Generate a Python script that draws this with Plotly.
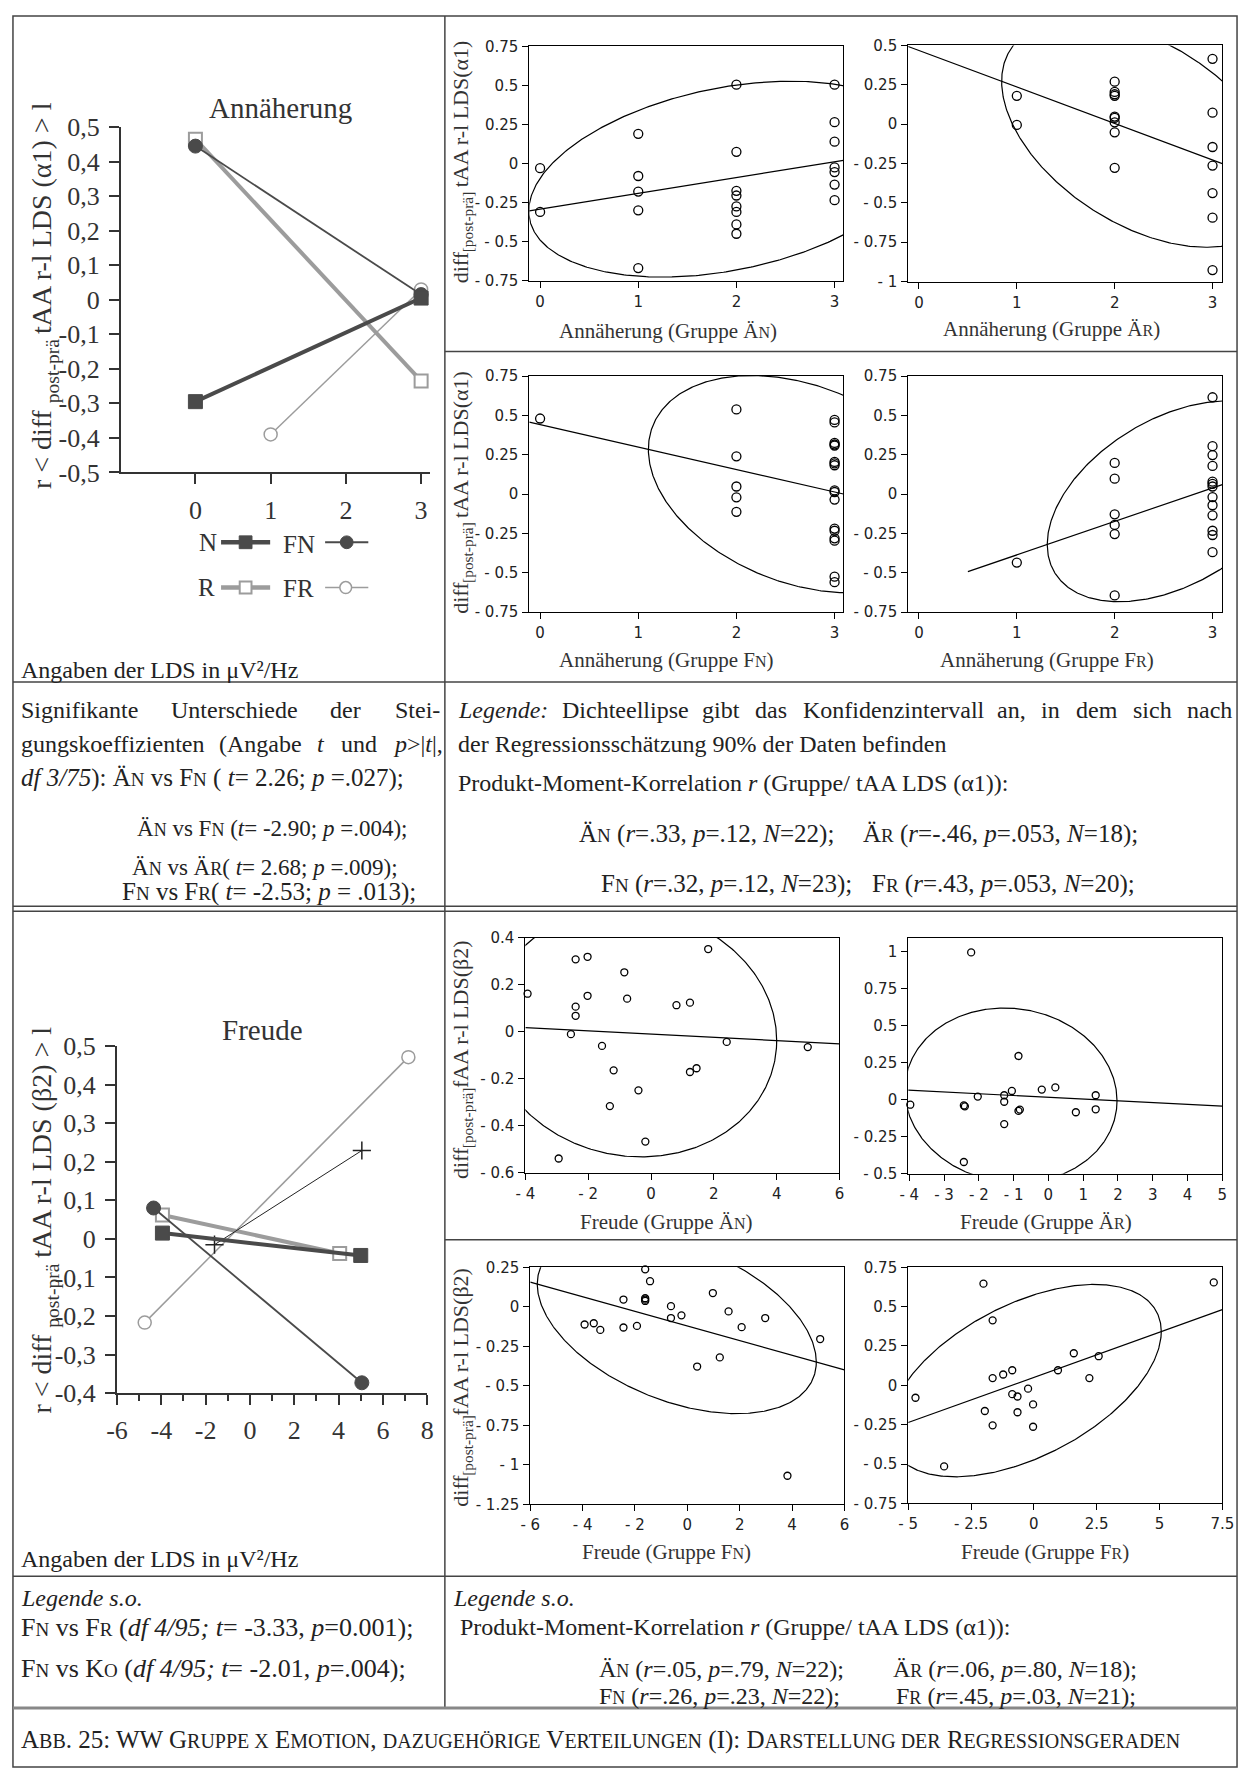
import numpy as np
import plotly.graph_objects as go

W, H = 1251, 1784
SERIF = "Liberation Serif"
SANS = "DejaVu Sans"
DARK = "#4a4a4a"
GREY = "#9c9c9c"
INK = "#222222"

# ---------------- left line charts ----------------
# Annäherung (x = Annäherung score, y = r)
ann_N_x = [0, 3];  ann_N_y = [-0.295, 0.005]
ann_FN_x = [0, 3]; ann_FN_y = [0.445, 0.015]
ann_R_x = [0, 3];  ann_R_y = [0.465, -0.235]
ann_FR_x = [1, 3]; ann_FR_y = [-0.39, 0.03]
# Freude
fr_N_x = [-3.95, 5.0];   fr_N_y = [0.015, -0.043]
fr_FN_x = [-4.35, 5.05]; fr_FN_y = [0.08, -0.373]
fr_R_x = [-3.95, 4.05];  fr_R_y = [0.062, -0.038]
fr_FR_x = [-4.75, 7.15]; fr_FR_y = [-0.217, 0.471]
fr_KO_x = [-1.6, 5.05];  fr_KO_y = [-0.015, 0.229]

ann_line_xticks = [-1, 0, 1, 2, 3]
ann_line_xtext = ["", "0", "1", "2", "3"]
ann_line_yticks = [0.5, 0.4, 0.3, 0.2, 0.1, 0, -0.1, -0.2, -0.3, -0.4, -0.5]
ann_line_ytext = ["0,5", "0,4", "0,3", "0,2", "0,1", "0", "-0,1", "-0,2", "-0,3", "-0,4", "-0,5"]
fr_line_xticks = [-6, -4, -2, 0, 2, 4, 6, 8]
fr_line_xtext = ["-6", "-4", "-2", "0", "2", "4", "6", "8"]
fr_line_yticks = [0.5, 0.4, 0.3, 0.2, 0.1, 0, -0.1, -0.2, -0.3, -0.4]
fr_line_ytext = ["0,5", "0,4", "0,3", "0,2", "0,1", "0", "-0,1", "-0,2", "-0,3", "-0,4"]

# ---------------- scatter panels ----------------
annA_x = [0, 0, 1, 1, 1, 1, 1, 2, 2, 2, 2, 2, 2, 2, 2, 3, 3, 3, 3, 3, 3, 3]
annA_y = [-0.03, -0.31, 0.19, -0.08, -0.18, -0.30, -0.67, 0.505, 0.075, -0.175, -0.205,
          -0.275, -0.31, -0.39, -0.45, 0.505, 0.265, 0.14, -0.025, -0.055, -0.135, -0.235]
annB_x = [1, 1, 2, 2, 2, 2, 2, 2, 2, 2, 2, 3, 3, 3, 3, 3, 3, 3]
annB_y = [0.18, -0.005, 0.27, 0.205, 0.19, 0.18, 0.048, 0.04, 0.012, -0.052, -0.277,
          0.415, 0.073, -0.145, -0.263, -0.438, -0.594, -0.927]
annC_x = [0, 2, 2, 2, 2, 2, 3, 3, 3, 3, 3, 3, 3, 3, 3, 3, 3, 3, 3, 3, 3, 3, 3]
annC_y = [0.48, 0.538, 0.24, 0.048, -0.021, -0.113, 0.471, 0.455, 0.325, 0.315, 0.308,
          0.204, 0.195, 0.183, 0.023, 0.013, -0.035, -0.219, -0.233, -0.281, -0.296, -0.525, -0.56]
annD_x = [1, 2, 2, 2, 2, 2, 2, 3, 3, 3, 3, 3, 3, 3, 3, 3, 3, 3, 3, 3]
annD_y = [-0.435, 0.198, 0.098, -0.129, -0.196, -0.254, -0.644, 0.615, 0.304, 0.248, 0.179,
          0.079, 0.065, 0.048, -0.019, -0.071, -0.135, -0.233, -0.26, -0.369]
frE_x = [-3.93, -2.94, -2.55, -2.40, -2.40, -2.40, -2.02, -2.02, -1.56, -1.31, -1.19, -0.85,
         -0.76, -0.40, -0.18, 0.81, 1.24, 1.24, 1.45, 1.82, 2.41, 4.99]
frE_y = [0.162, -0.539, -0.01, 0.308, 0.107, 0.068, 0.319, 0.153, -0.06, -0.316, -0.164, 0.253,
         0.141, -0.249, -0.467, 0.113, 0.124, -0.171, -0.155, 0.352, -0.043, -0.065]
frF_x = [-3.97, -2.43, -2.40, -2.43, -2.22, -2.03, -1.27, -1.27, -1.27, -1.05, -0.86, -0.86,
         -0.82, -0.19, 0.20, 0.79, 1.36, 1.36]
frF_y = [-0.033, -0.038, -0.044, -0.42, 0.996, 0.022, 0.031, -0.013, -0.164, 0.06, 0.296, -0.075,
         -0.066, 0.069, 0.084, -0.084, 0.031, -0.064]
frG_x = [-3.925, -3.575, -3.325, -2.44, -2.44, -1.925, -1.61, -1.61, -1.61, -1.61, -1.425, -0.625,
         -0.625, -0.225, 0.375, 0.975, 1.24, 1.575, 2.075, 2.975, 3.825, 5.075]
frG_y = [-0.112, -0.104, -0.146, 0.046, -0.131, -0.121, 0.237, 0.054, 0.045, 0.037, 0.162, 0.004,
         -0.071, -0.054, -0.378, 0.087, -0.32, -0.029, -0.129, -0.071, -1.069, -0.204]
frH_x = [-4.71, -3.57, -2.005, -1.95, -1.64, -1.64, -1.64, -1.22, -0.86, -0.86, -0.65, -0.65,
         -0.23, -0.03, -0.03, 0.96, 1.59, 2.21, 2.58, 7.16]
frH_y = [-0.079, -0.515, 0.646, -0.163, 0.413, 0.046, -0.254, 0.069, 0.096, -0.056, -0.071, -0.171,
         -0.021, -0.121, -0.263, 0.096, 0.204, 0.046, 0.185, 0.654]

# density ellipse (90%) half-extents, centre and correlation per panel A..H
ell_cx = [1.90, 2.278, 2.652, 2.60, -0.589, -1.077, -0.403, -0.359]
ell_cy = [-0.10, -0.06, 0.063, -0.046, -0.006, 0.03, -0.103, 0.03]
ell_hx = [2.015, 1.433, 1.549, 1.289, 4.59, 3.05, 5.33, 5.43]
ell_hy = [0.6275, 0.722, 0.69, 0.638, 0.526, 0.59, 0.573, 0.611]
ell_r = [0.325, -0.46, -0.32, 0.43, -0.06, -0.062, -0.43, 0.51]
reg_x0 = [-0.11, -0.11, -0.11, 0.5, -4.0, -4.03, -6.0, -5.0]
reg_x1 = [3.09, 3.10, 3.09, 3.10, 6.0, 5.0, 6.0, 7.5]

# tick labels for scatter panels
t075_vals = [0.75, 0.5, 0.25, 0, -0.25, -0.5, -0.75]
t075_text = ["0.75", "0.5", "0.25", "0", "- 0.25", "- 0.5", "- 0.75"]
tB_yvals = [0.5, 0.25, 0, -0.25, -0.5, -0.75, -1]
tB_ytext = ["0.5", "0.25", "0", "- 0.25", "- 0.5", "- 0.75", "- 1"]
t0123 = [0, 1, 2, 3]
t0123_text = ["0", "1", "2", "3"]
tE_xvals = [-4, -2, 0, 2, 4, 6]
tE_xtext = ["- 4", "- 2", "0", "2", "4", "6"]
tE_yvals = [0.4, 0.2, 0, -0.2, -0.4, -0.6]
tE_ytext = ["0.4", "0.2", "0", "- 0.2", "- 0.4", "- 0.6"]
tF_xvals = [-4, -3, -2, -1, 0, 1, 2, 3, 4, 5]
tF_xtext = ["- 4", "- 3", "- 2", "- 1", "0", "1", "2", "3", "4", "5"]
tF_yvals = [1, 0.75, 0.5, 0.25, 0, -0.25, -0.5]
tF_ytext = ["1", "0.75", "0.5", "0.25", "0", "- 0.25", "- 0.5"]
tG_xvals = [-6, -4, -2, 0, 2, 4, 6]
tG_xtext = ["- 6", "- 4", "- 2", "0", "2", "4", "6"]
tG_yvals = [0.25, 0, -0.25, -0.5, -0.75, -1, -1.25]
tG_ytext = ["0.25", "0", "- 0.25", "- 0.5", "- 0.75", "- 1", "- 1.25"]
tH_xvals = [-5, -2.5, 0, 2.5, 5, 7.5]
tH_xtext = ["- 5", "- 2.5", "0", "2.5", "5", "7.5"]

# ---------------- helpers ----------------
def px(x):
    return x / W

def py(y):
    return 1 - y / H

def sc(s, size):
    return "<span style='font-size:%dpx'>%s</span>" % (size, s)

# Times / Liberation Serif advance widths (per 1000 em)
_TW = {' ': 250, '(': 333, ')': 333, ',': 250, '-': 333, '.': 250, ':': 278, ';': 278,
       '>': 564, '<': 564, '|': 200, '%': 833, '/': 278, '=': 564, '[': 333, ']': 333,
       '1': 500, '2': 500, 'α': 520, 'β': 500,
       'A': 722, 'D': 722, 'K': 722, 'L': 611, 'S': 556, 'U': 722, 'Ä': 722,
       'a': 444, 'b': 500, 'c': 444, 'd': 500, 'e': 444, 'f': 333, 'g': 500, 'h': 500,
       'i': 278, 'k': 500, 'l': 278, 'm': 778, 'n': 500, 'o': 500, 'p': 500, 'r': 333,
       's': 389, 't': 278, 'u': 500, 'v': 500, 'z': 444, 'ä': 444}

def text_width(s, size):
    return sum(_TW.get(c, 500) for c in s) * size / 1000.0

fig = go.Figure()
layout_axes = {}
annotations = []
shapes = []

def add_text(x, y, text, size, anchor="left", family=SERIF, color=INK, angle=0, yanchor="middle"):
    annotations.append(dict(x=px(x), y=py(y), xref="paper", yref="paper", text=text,
                            showarrow=False, xanchor=anchor, yanchor=yanchor, textangle=angle,
                            font=dict(family=family, size=size, color=color), borderpad=0))

def add_justified(x0, x1, y, words, size):
    total = sum(text_width(p, size) for _, p in words)
    gap = (x1 - x0 - total) / (len(words) - 1)
    x = x0
    for markup, plain in words:
        add_text(x, y, markup, size)
        x += text_width(plain, size) + gap

def rot_text(xc, yc, parts, color="#333"):
    # vertical (bottom-to-top) text assembled from pieces; parts: (markup, plain, size, dx)
    total = sum(text_width(p, s) for _, p, s, _ in parts)
    cur = yc + total / 2.0
    for markup, plain, size, dx in parts:
        if markup:
            add_text(xc + dx, cur, markup, size, anchor="center", color=color, angle=-90,
                     yanchor="bottom")
        cur -= text_width(plain, size)

# ---------------- line chart axes ----------------
line_common = dict(showline=True, linecolor="#333", linewidth=2, ticks="outside", ticklen=10,
                   tickwidth=1.5, tickcolor="#333", showgrid=False, zeroline=False,
                   tickfont=dict(family=SERIF, size=26, color="#333"), tickmode="array")

layout_axes["xaxis"] = dict(domain=[px(112), px(427)], range=[-0.99, 3.12], anchor="y",
                            tickvals=ann_line_xticks, ticktext=ann_line_xtext,
                            ticklabelstandoff=3, **line_common)
layout_axes["yaxis"] = dict(domain=[py(466), py(115)], range=[-0.5, 0.5], anchor="x",
                            tickvals=ann_line_yticks, ticktext=ann_line_ytext,
                            ticklabelstandoff=4, **line_common)
layout_axes["xaxis2"] = dict(domain=[px(108), px(424)], range=[-6, 8], anchor="y2",
                             tickvals=fr_line_xticks, ticktext=fr_line_xtext,
                             ticklabelstandoff=3,
                             minor=dict(tickmode="linear", tick0=-6, dtick=1, ticks="outside",
                                        ticklen=6, tickcolor="#333", tickwidth=1.5),
                             **line_common)
layout_axes["yaxis2"] = dict(domain=[py(1402), py(1049)], range=[-0.4, 0.5], anchor="x2",
                             tickvals=fr_line_yticks, ticktext=fr_line_ytext,
                             ticklabelstandoff=4, **line_common)

def line_trace(xs, ys, ax, color, lw, symbol, msize, fill, mlw):
    fig.add_trace(go.Scatter(x=xs, y=ys, mode="lines+markers", xaxis="x" + ax, yaxis="y" + ax,
                             line=dict(color=color, width=lw),
                             marker=dict(symbol=symbol, size=msize, color=fill,
                                         line=dict(color=color, width=mlw)),
                             cliponaxis=False, showlegend=False, hoverinfo="skip"))

line_trace(ann_R_x, ann_R_y, "", GREY, 4, "square", 13, "white", 2)
line_trace(ann_FR_x, ann_FR_y, "", GREY, 1.5, "circle", 13, "white", 1.5)
line_trace(ann_FN_x, ann_FN_y, "", DARK, 1.8, "circle", 14, DARK, 1)
line_trace(ann_N_x, ann_N_y, "", DARK, 4, "square", 14, DARK, 1)

line_trace(fr_R_x, fr_R_y, "2", GREY, 4, "square", 13, "white", 2)
line_trace(fr_FR_x, fr_FR_y, "2", GREY, 1.5, "circle", 13, "white", 1.5)
line_trace(fr_KO_x, fr_KO_y, "2", "#222", 1, "cross-thin", 13, "#222", 1.5)
line_trace(fr_FN_x, fr_FN_y, "2", DARK, 1.8, "circle", 14, DARK, 1)
line_trace(fr_N_x, fr_N_y, "2", DARK, 4, "square", 14, DARK, 1)

# ---------------- scatter panels ----------------
scat_common = dict(showline=True, mirror=True, linecolor="black", linewidth=1, ticks="outside",
                   ticklen=6, tickwidth=1, tickcolor="black", showgrid=False, zeroline=False,
                   tickfont=dict(family=SANS, size=15, color=INK), tickmode="array",
                   ticklabelstandoff=1)

panels = [
    ([528, 848], [33, 271], [-0.11, 3.09], [-0.75, 0.75], t0123, t0123_text, t075_vals, t075_text, annA_x, annA_y, 9),
    ([914, 1234], [32, 272], [-0.11, 3.10], [-1, 0.5], t0123, t0123_text, tB_yvals, tB_ytext, annB_x, annB_y, 9),
    ([528, 848], [368, 608], [-0.11, 3.09], [-0.75, 0.75], t0123, t0123_text, t075_vals, t075_text, annC_x, annC_y, 9),
    ([914, 1234], [368, 608], [-0.11, 3.10], [-0.75, 0.75], t0123, t0123_text, t075_vals, t075_text, annD_x, annD_y, 9),
    ([524, 844], [939, 1178], [-4, 6], [-0.6, 0.4], tE_xvals, tE_xtext, tE_yvals, tE_ytext, frE_x, frE_y, 7),
    ([914, 1234], [939, 1179], [-4.03, 5.0], [-0.5, 1.095], tF_xvals, tF_xtext, tF_yvals, tF_ytext, frF_x, frF_y, 7),
    ([529, 849], [1274, 1515], [-6, 6], [-1.25, 0.25], tG_xvals, tG_xtext, tG_yvals, tG_ytext, frG_x, frG_y, 7),
    ([914, 1234], [1274, 1514], [-5, 7.5], [-0.75, 0.75], tH_xvals, tH_xtext, t075_vals, t075_text, frH_x, frH_y, 7),
]

t = np.linspace(0, 2 * np.pi, 500)
for k, (xd, yd, xr, yr, xt, xtt, yt, ytt, dxs, dys, ms) in enumerate(panels):
    key = str(k + 3)
    layout_axes["xaxis" + key] = dict(domain=[px(xd[0]), px(xd[1])], range=xr, anchor="y" + key,
                                      tickvals=xt, ticktext=xtt, **scat_common)
    layout_axes["yaxis" + key] = dict(domain=[py(yd[1]), py(yd[0])], range=yr, anchor="x" + key,
                                      tickvals=yt, ticktext=ytt, **scat_common)
    r = ell_r[k]
    ex = ell_cx[k] + ell_hx[k] * np.cos(t)
    ey = ell_cy[k] + ell_hy[k] * (r * np.cos(t) + np.sqrt(1 - r * r) * np.sin(t))
    fig.add_trace(go.Scatter(x=ex, y=ey, mode="lines", xaxis="x" + key, yaxis="y" + key,
                             line=dict(color="black", width=1.2), showlegend=False, hoverinfo="skip"))
    slope = r * ell_hy[k] / ell_hx[k]
    rx = np.array([reg_x0[k], reg_x1[k]])
    ry = ell_cy[k] + slope * (rx - ell_cx[k])
    fig.add_trace(go.Scatter(x=rx, y=ry, mode="lines", xaxis="x" + key, yaxis="y" + key,
                             line=dict(color="black", width=1.2), showlegend=False, hoverinfo="skip"))
    fig.add_trace(go.Scatter(x=dxs, y=dys, mode="markers", xaxis="x" + key, yaxis="y" + key,
                             marker=dict(symbol="circle-open", size=ms, color="black",
                                         line=dict(width=1.3)),
                             cliponaxis=False, showlegend=False, hoverinfo="skip"))

# ---------------- table lines ----------------
LC = "#444444"
def hline(y, x0, x1, color=LC, width=1.5):
    shapes.append(dict(type="line", xref="paper", yref="paper", x0=px(x0), x1=px(x1),
                       y0=py(y), y1=py(y), line=dict(color=color, width=width)))

def vline(x, y0, y1, color=LC, width=1.5):
    shapes.append(dict(type="line", xref="paper", yref="paper", x0=px(x), x1=px(x),
                       y0=py(y0), y1=py(y1), line=dict(color=color, width=width)))

shapes.append(dict(type="rect", xref="paper", yref="paper", x0=px(2), x1=px(1249),
                   y0=py(1782), y1=py(2), line=dict(color=LC, width=1.5)))
vline(442, 2, 1721)
hline(343, 442, 1249)
hline(679, 2, 1249)
hline(907, 2, 1249)
hline(912, 2, 1249)
hline(1246, 442, 1249)
hline(1588, 2, 1249)
hline(1722, 2, 1249, color="#888888", width=3)

# ---------------- legend (Annäherung panel) ----------------
def leg_square(cx, cy, s, fill, edge, lw):
    shapes.append(dict(type="rect", xref="paper", yref="paper", x0=px(cx - s / 2), x1=px(cx + s / 2),
                       y0=py(cy + s / 2), y1=py(cy - s / 2), fillcolor=fill,
                       line=dict(color=edge, width=lw)))

def leg_circle(cx, cy, rr, fill, edge, lw):
    shapes.append(dict(type="circle", xref="paper", yref="paper", x0=px(cx - rr), x1=px(cx + rr),
                       y0=py(cy + rr), y1=py(cy - rr), fillcolor=fill,
                       line=dict(color=edge, width=lw)))

hline(537, 214, 264, color=DARK, width=4.5)
leg_square(239, 537, 13, DARK, DARK, 1)
hline(537, 320, 364, color=DARK, width=2)
leg_circle(342, 537, 6.5, DARK, DARK, 1)
hline(583, 214, 264, color=GREY, width=4.5)
leg_square(239, 583, 12, "white", GREY, 2)
hline(583, 320, 364, color=GREY, width=1.5)
leg_circle(341, 583, 6, "white", GREY, 1.5)
add_text(211, 537, "N", 25, anchor="right", color="#333")
add_text(276, 539, "FN", 25, anchor="left", color="#333")
add_text(209, 583, "R", 25, anchor="right", color="#333")
add_text(276, 584, "FR", 25, anchor="left", color="#333")

# ---------------- chart titles / axis titles ----------------
add_text(275, 96, "Annäherung", 29, anchor="center", color="#333")
add_text(256, 1033, "Freude", 29, anchor="center", color="#333")

YS = 28
YSUB = 19.6
for yc, tail in [(288, "tAA r-l LDS (α1) &gt; l"), (1228, "tAA r-l LDS (β2) &gt; l")]:
    tail_plain = tail.replace("&gt;", ">")
    rot_text(31, yc, [("r &lt; diff", "r < diff", YS, 0), (None, " ", YS, 0),
                      ("post-prä", "post-prä", YSUB, 11), (None, " ", YS, 0),
                      (tail, tail_plain, YS, 0)])

add_text(9, 667, "Angaben der LDS in μV²/Hz", 24)
add_text(9, 1571, "Angaben der LDS in μV²/Hz", 24)

S = 21
s_sc = 16
add_text(669, 322, "Annäherung (Gruppe Ä" + sc("N", s_sc) + ")", S, anchor="center", color="#333")
add_text(1060, 320, "Annäherung (Gruppe Ä" + sc("R", s_sc) + ")", S, anchor="center", color="#333")
add_text(668, 657, "Annäherung (Gruppe F" + sc("N", s_sc) + ")", S, anchor="center", color="#333")
add_text(1055, 657, "Annäherung (Gruppe F" + sc("R", s_sc) + ")", S, anchor="center", color="#333")
add_text(668, 1228, "Freude (Gruppe Ä" + sc("N", s_sc) + ")", S, anchor="center", color="#333")
add_text(1054, 1228, "Freude (Gruppe Ä" + sc("R", s_sc) + ")", S, anchor="center", color="#333")
add_text(668, 1563, "Freude (Gruppe F" + sc("N", s_sc) + ")", S, anchor="center", color="#333")
add_text(1053, 1563, "Freude (Gruppe F" + sc("R", s_sc) + ")", S, anchor="center", color="#333")

SY = 22
SYS = 15.4
for yc in [152, 488]:
    rot_text(458, yc, [("diff", "diff", SY, 0), ("[post-prä]", "[post-prä]", SYS, 7),
                       (None, " ", SY, 0), ("tAA r-l LDS(α1)", "tAA r-l LDS(α1)", SY, 0)])
for yc in [1065, 1398]:
    rot_text(458, yc, [("diff", "diff", SY, 0), ("[post-prä]", "[post-prä]", SYS, 7),
                       ("fAA r-l LDS(β2)", "fAA r-l LDS(β2)", SY, 0)])

# ---------------- text blocks ----------------
T = 24
ts = 18
def N_(s, size=ts):
    return s[0] + sc(s[1:], size)

add_justified(9, 436, 707, [("Signifikante", "Signifikante"), ("Unterschiede", "Unterschiede"),
                            ("der", "der"), ("Stei-", "Stei-")], T)
add_justified(9, 436, 742, [("gungskoeffizienten", "gungskoeffizienten"), ("(Angabe", "(Angabe"),
                            ("<i>t</i>", "t"), ("und", "und"),
                            ("<i>p</i>&gt;|<i>t</i>|,", "p>|t|,")], T)
add_text(9, 777, "<i>df 3/75</i>): " + N_("ÄN", 19) + " vs " + N_("FN", 19) +
         " ( <i>t</i>= 2.26; <i>p</i> =.027);", 25)
add_text(266, 828, N_("ÄN", 18) + " vs " + N_("FN", 18) + " (<i>t</i>= -2.90; <i>p</i> =.004);", 23, anchor="center")
add_text(259, 868, N_("ÄN", 18) + " vs " + N_("ÄR", 18) + "( <i>t</i>= 2.68; <i>p</i> =.009);", 23, anchor="center")
add_text(414, 892, N_("FN", 19) + " vs " + N_("FR", 19) + "( <i>t</i>= -2.53; <i>p</i> = .013);", 25, anchor="right")

add_justified(454, 1242, 707, [("<i>Legende:</i>", "Legende:"), ("Dichteellipse", "Dichteellipse"),
                               ("gibt", "gibt"), ("das", "das"),
                               ("Konfidenzintervall", "Konfidenzintervall"), ("an,", "an,"),
                               ("in", "in"), ("dem", "dem"), ("sich", "sich"), ("nach", "nach")], T)
add_text(454, 742, "der Regressionsschätzung 90% der Daten befinden", T)
add_text(454, 782, "Produkt-Moment-Korrelation <i>r</i> (Gruppe/ tAA LDS (α1)):", T)
add_text(578, 834, N_("ÄN", 19) + " (<i>r</i>=.33, <i>p</i>=.12, <i>N</i>=22);", 25)
add_text(867, 834, N_("ÄR", 19) + " (<i>r</i>=-.46, <i>p</i>=.053, <i>N</i>=18);", 25)
add_text(600, 884, N_("FN", 19) + " (<i>r</i>=.32, <i>p</i>=.12, <i>N</i>=23);", 25)
add_text(876, 884, N_("FR", 19) + " (<i>r</i>=.43, <i>p</i>=.053, <i>N</i>=20);", 25)

add_text(9, 1610, "<i>Legende s.o.</i>", T)
add_text(9, 1640, N_("FN", 19) + " vs " + N_("FR", 19) +
         " (<i>df 4/95;</i> <i>t</i>= -3.33, <i>p</i>=0.001);", 26)
add_text(9, 1682, N_("FN", 19) + " vs " + N_("KO", 19) +
         " (<i>df 4/95;</i> <i>t</i>= -2.01, <i>p</i>=.004);", 26)
add_text(449, 1610, "<i>Legende s.o.</i>", T)
add_text(456, 1640, "Produkt-Moment-Korrelation <i>r</i> (Gruppe/ tAA LDS (α1)):", T)
add_text(598, 1682, N_("ÄN") + " (<i>r</i>=.05, <i>p</i>=.79, <i>N</i>=22);", T)
add_text(898, 1682, N_("ÄR") + " (<i>r</i>=.06, <i>p</i>=.80, <i>N</i>=18);", T)
add_text(598, 1710, N_("FN") + " (<i>r</i>=.26, <i>p</i>=.23, <i>N</i>=22);", T)
add_text(901, 1710, N_("FR") + " (<i>r</i>=.45, <i>p</i>=.03, <i>N</i>=21);", T)

cs = 20
caption = ("A" + sc("BB", cs) + ". 25: WW G" + sc("RUPPE X", cs) + " E" + sc("MOTION", cs) + ", " +
           sc("DAZUGEHÖRIGE", cs) + " V" + sc("ERTEILUNGEN", cs) + " (I): D" +
           sc("ARSTELLUNG DER", cs) + " R" + sc("EGRESSIONSGERADEN", cs))
add_text(9, 1755, caption, 25)

fig.update_layout(margin=dict(l=0, r=0, t=0, b=0, pad=0),
                  paper_bgcolor="white", plot_bgcolor="rgba(0,0,0,0)", showlegend=False,
                  annotations=annotations, shapes=shapes, **layout_axes)

post = ("document.documentElement.style.margin='0';document.body.style.margin='0';"
        "document.body.style.padding='0';")
fig.write_html("out.html", config={"displayModeBar": False, "responsive": False},
               default_width="%dpx; position:absolute; left:0px; top:0px; margin:0px" % W,
               default_height="%dpx" % H, post_script=post)
